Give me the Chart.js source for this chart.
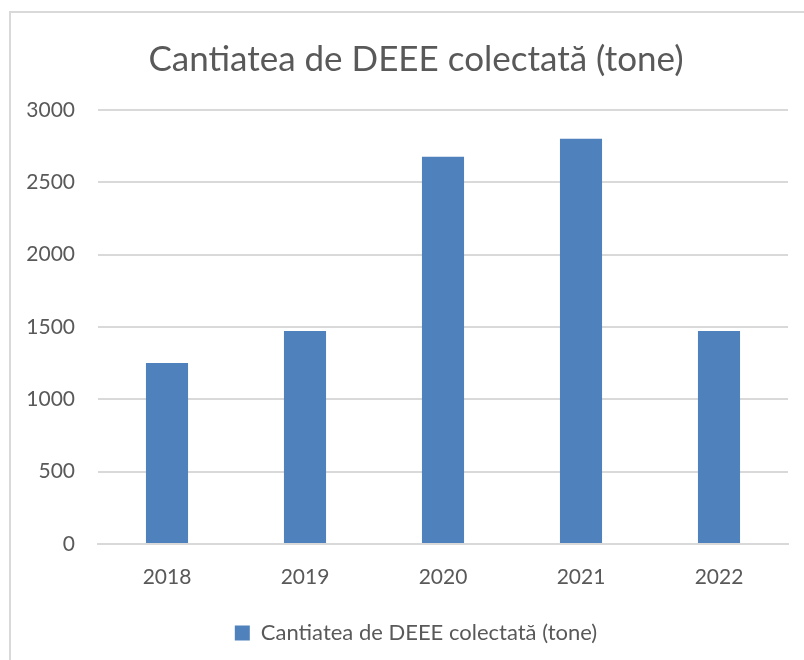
<!DOCTYPE html>
<html>
<head>
<meta charset="utf-8">
<script src="https://cdn.jsdelivr.net/npm/chart.js@4.4.0/dist/chart.umd.min.js"></script>
<style>
html,body{margin:0;padding:0;background:#fff;}
#wrap{width:804px;height:660px;position:relative;}
</style>
</head>
<body>
<div id="wrap"><canvas id="c" width="804" height="660"></canvas></div>
<script>
const categories = ['2018', '2019', '2020', '2021', '2022'];
const values = [1251, 1472, 2677, 2801, 1472];
const seriesName = 'Cantiatea de DEEE colectată (tone)';
const chartTitle = 'Cantiatea de DEEE colectată (tone)';
const yTicks = [0, 500, 1000, 1500, 2000, 2500, 3000];

const textColor = '#595959';
const fontFamily = 'Lato, "Open Sans", sans-serif';

const borderPlugin = {
  id: 'outerBorder',
  beforeDraw(chart) {
    const ctx = chart.ctx;
    ctx.save();
    ctx.fillStyle = '#fff';
    ctx.fillRect(0, 0, chart.width, chart.height);
    ctx.strokeStyle = '#D9D9D9';
    ctx.lineWidth = 2;
    ctx.strokeRect(10, 12, chart.width + 20, chart.height + 20);
    ctx.restore();
  },
  afterLayout(chart) {
    // centre title and legend on the outer frame rather than the canvas
    if (chart.titleBlock) chart.titleBlock.left += 44;
    if (chart.legend) chart.legend.left += 44;
  }
};

new Chart(document.getElementById('c'), {
  type: 'bar',
  data: {
    labels: categories,
    datasets: [{
      label: seriesName,
      data: values,
      backgroundColor: '#4F81BD',
      borderWidth: 0,
      barPercentage: 0.61,
      categoryPercentage: 0.5
    }]
  },
  options: {
    responsive: false,
    animation: false,
    devicePixelRatio: 1,
    layout: { padding: { left: 0, right: 16, top: 0, bottom: 6 } },
    plugins: {
      title: {
        display: true,
        text: chartTitle,
        color: textColor,
        font: { family: fontFamily, size: 35, weight: 'normal' },
        padding: { top: 39, bottom: 29 }
      },
      legend: {
        display: true,
        position: 'bottom',
        labels: {
          color: textColor,
          font: { family: fontFamily, size: 22 },
          boxWidth: 15,
          boxHeight: 15,
          padding: 12
        }
      },
      tooltip: { enabled: false }
    },
    scales: {
      x: {
        grid: { display: false, drawTicks: false },
        border: { display: true, color: '#D9D9D9', width: 2 },
        ticks: { color: textColor, font: { family: fontFamily, size: 21 }, padding: 21 },
        afterFit(scale) {
          const lg = scale.chart.legend;
          const lh = (lg && lg.height) ? lg.height : 47;
          scale.height = 660 - 6 - 544 - lh;
        }
      },
      y: {
        min: 0,
        max: 3000,
        afterBuildTicks(scale) { scale.ticks = yTicks.map(v => ({ value: v })); },
        grid: { color: '#D9D9D9', lineWidth: 2, drawTicks: false },
        border: { display: false },
        ticks: {
          color: textColor,
          font: { family: fontFamily, size: 21 },
          padding: 23,
          callback: (v) => String(v)
        },
        afterFit(scale) { scale.width = 98; }
      }
    }
  },
  plugins: [borderPlugin]
});
</script>
</body>
</html>
